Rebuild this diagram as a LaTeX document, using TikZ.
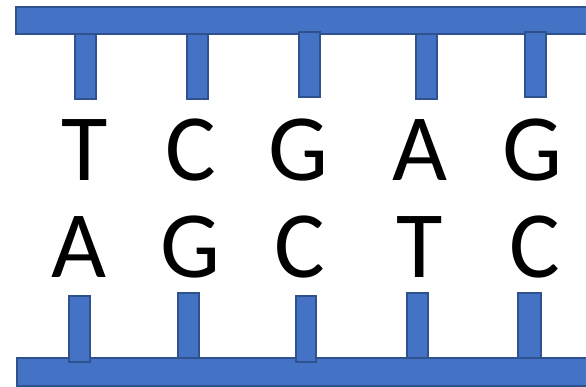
\documentclass[tikz,border=0pt]{standalone}
\usepackage{fontspec}
\setmainfont{Carlito}
\begin{document}
\begin{tikzpicture}[x=1pt,y=-1pt,
  bar/.style={fill=barfill,draw=barline,line width=1.5pt},
  base/.style={font=\fontsize{95}{95}\selectfont,anchor=base,inner sep=0pt,text=black}]
\definecolor{barfill}{HTML}{4472C4}
\definecolor{barline}{HTML}{2F528F}
\useasboundingbox (0,0) rectangle (586,387);
\clip (0,0) rectangle (586,387);
% backbones
\draw[bar] (16,7) rectangle (600,34);
\draw[bar] (17,358) rectangle (600,386);
% top stubs
\draw[bar] (75,34) rectangle (96,99);
\draw[bar] (187,34) rectangle (208,99);
\draw[bar] (299,32) rectangle (320,97);
\draw[bar] (416,34) rectangle (437,99);
\draw[bar] (525,32) rectangle (546,97);
% bottom stubs
\draw[bar] (69,296) rectangle (90,362);
\draw[bar] (178,293) rectangle (199,358);
\draw[bar] (296,296) rectangle (316,362);
\draw[bar] (407,293) rectangle (428,358);
\draw[bar] (518,293) rectangle (541,358);
% bases top strand
\node[base] (t1) at (85,181) {T};
\node[base] (t2) at (191,181) {C};
\node[base] (t3) at (298,181) {G};
\node[base] (t4) at (420,181) {A};
\node[base] (t5) at (532,181) {G};
% bases bottom strand
\node[base] (b1) at (79,277) {A};
\node[base] (b2) at (190,277) {G};
\node[base] (b3) at (300,277) {C};
\node[base] (b4) at (420,277) {T};
\node[base] (b5) at (535,277) {C};
\end{tikzpicture}
\end{document}
